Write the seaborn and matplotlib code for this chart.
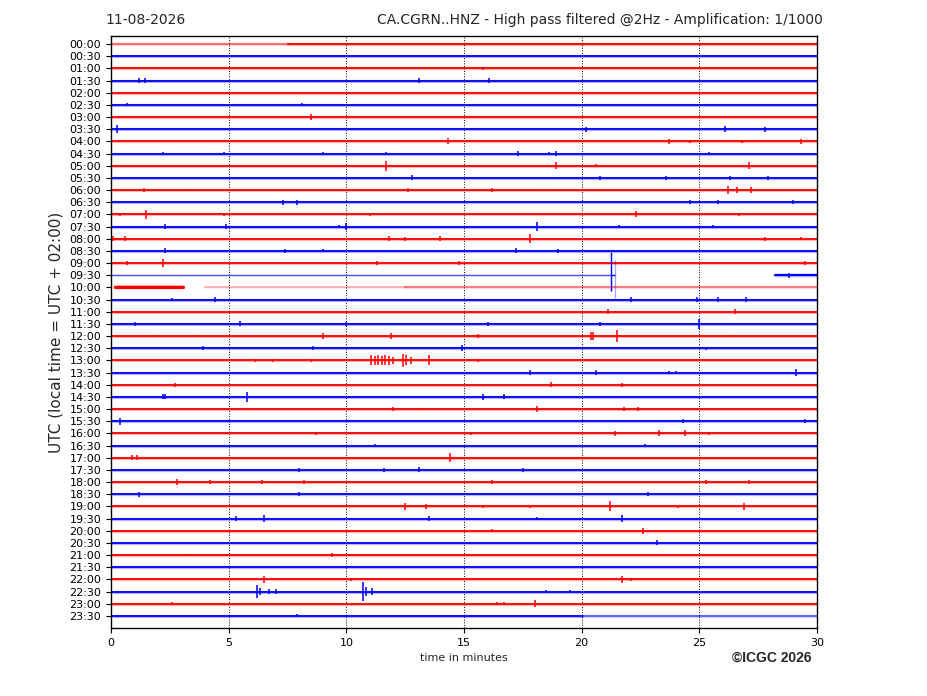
import matplotlib
matplotlib.use("Agg")
import matplotlib.pyplot as plt
import seaborn as sns
import pandas as pd

sns.set_style("ticks")
plt.rcParams['font.family'] = ['DejaVu Sans']

# ---------------- data ----------------
row_labels = ["00:00", "00:30", "01:00", "01:30", "02:00", "02:30", "03:00", "03:30",
              "04:00", "04:30", "05:00", "05:30", "06:00", "06:30", "07:00", "07:30",
              "08:00", "08:30", "09:00", "09:30", "10:00", "10:30", "11:00", "11:30",
              "12:00", "12:30", "13:00", "13:30", "14:00", "14:30", "15:00", "15:30",
              "16:00", "16:30", "17:00", "17:30", "18:00", "18:30", "19:00", "19:30",
              "20:00", "20:30", "21:00", "21:30", "22:00", "22:30", "23:00", "23:30"]
x_ticks = [0, 5, 10, 15, 20, 25, 30]

# baseline segments that differ from a full 0-30 min trace: row, start, end, alpha, width
seg_rows  = [0,   0,    19,   19,   20,   20,   20,   47,   47]
seg_start = [0.0, 7.5,  0.0,  28.2, 0.15, 4.0,  12.5, 0.0,  20.0]
seg_end   = [7.5, 30.0, 21.2, 30.0, 3.05, 12.5, 30.0, 20.0, 30.0]
seg_alpha = [0.55, 1.0, 0.6,  1.0,  1.0,  0.25, 0.45, 1.0,  0.55]
seg_width = [1.3, 1.3,  0.8,  1.5,  2.2,  1.4,  1.4,  1.3,  1.4]

# seismic events: row index, time in minutes, half-amplitude (in trace spacing units)
ev_rows = [2,
           3, 3, 3, 3,
           5, 5,
           6,
           7, 7, 7, 7,
           8, 8, 8, 8, 8,
           9, 9, 9, 9, 9, 9, 9, 9,
           10, 10, 10, 10,
           11, 11, 11, 11, 11,
           12, 12, 12, 12, 12, 12, 12, 12,
           13, 13, 13, 13, 13,
           14, 14, 14, 14, 14, 14,
           15, 15, 15, 15, 15, 15, 15,
           16, 16, 16, 16, 16, 16, 16, 16,
           17, 17, 17, 17, 17,
           18, 18, 18, 18, 18,
           19,
           20, 20, 20,
           21, 21, 21, 21, 21, 21,
           22, 22,
           23, 23, 23, 23, 23, 23,
           24, 24, 24, 24, 24, 24, 24, 24, 24,
           25, 25, 25, 25,
           26, 26, 26, 26, 26, 26, 26, 26, 26, 26, 26, 26, 26, 26, 26,
           27, 27, 27, 27, 27,
           28, 28, 28,
           29, 29, 29, 29, 29,
           30, 30, 30, 30, 30,
           31, 31, 31,
           32, 32, 32, 32, 32, 32,
           33, 33,
           34, 34, 34,
           35, 35, 35, 35,
           36, 36, 36, 36, 36, 36, 36,
           37, 37, 37,
           38, 38, 38, 38, 38, 38, 38,
           39, 39, 39, 39, 39,
           40, 40,
           41,
           42, 42,
           44, 44, 44, 44,
           45, 45, 45, 45, 45, 45, 45, 45, 45,
           46, 46, 46, 46,
           47]
ev_min = [15.8,
          1.2, 1.45, 13.1, 16.05,
          0.7, 8.1,
          8.5,
          0.27, 20.2, 26.1, 27.8,
          14.3, 23.7, 24.6, 26.8, 29.3,
          2.2, 4.8, 9.0, 11.7, 17.3, 18.6, 18.9, 25.4,
          11.7, 18.9, 20.6, 27.1,
          12.8, 20.8, 23.6, 26.3, 27.9,
          1.4, 3.2, 12.6, 16.2, 18.4, 26.2, 26.6, 27.2,
          7.3, 7.9, 24.6, 25.8, 29.0,
          0.4, 1.5, 4.8, 11.0, 22.3, 26.7,
          2.3, 4.9, 9.7, 10.0, 18.1, 21.6, 25.6,
          0.1, 0.6, 11.8, 12.5, 14.0, 17.8, 27.8, 29.3,
          2.3, 7.4, 9.0, 17.2, 19.0,
          0.7, 2.2, 11.3, 14.8, 29.5,
          28.8,
          0.5, 1.5, 2.6,
          2.6, 4.4, 22.1, 24.9, 25.8, 27.0,
          21.1, 26.5,
          1.0, 5.5, 10.0, 16.0, 20.8, 25.0,
          2.0, 3.6, 9.0, 11.9, 15.6, 20.4, 20.5, 21.5, 26.4,
          3.9, 8.6, 14.9, 25.3,
          6.1, 6.9, 8.5, 11.05, 11.2, 11.35, 11.5, 11.65, 11.8, 12.0, 12.4, 12.55, 12.75, 13.5, 15.6,
          17.8, 20.6, 23.7, 24.0, 29.1,
          2.7, 18.7, 21.7,
          2.2, 2.3, 5.8, 15.8, 16.7,
          12.0, 13.1, 18.1, 21.8, 22.4,
          0.4, 24.3, 29.5,
          8.7, 15.3, 21.4, 23.3, 24.4, 25.4,
          11.2, 22.7,
          0.9, 1.1, 14.4,
          8.0, 11.6, 13.1, 17.5,
          2.8, 4.2, 6.4, 8.2, 16.2, 25.3, 27.1,
          1.2, 8.0, 22.8,
          12.5, 13.4, 15.8, 17.8, 21.2, 24.1, 26.9,
          5.3, 6.5, 13.5, 18.1, 21.7,
          16.2, 22.6,
          23.2,
          3.2, 9.4,
          6.5, 10.2, 21.7, 22.1,
          6.2, 6.35, 6.7, 7.0, 10.7, 10.85, 11.1, 18.5, 19.5,
          2.6, 16.4, 16.7, 18.0,
          7.9]
ev_amp = [0.15,
          0.2, 0.2, 0.2, 0.2,
          0.12, 0.12,
          0.25,
          0.35, 0.2, 0.25, 0.2,
          0.25, 0.2, 0.12, 0.15, 0.2,
          0.15, 0.15, 0.12, 0.15, 0.2, 0.15, 0.2, 0.15,
          0.4, 0.3, 0.12, 0.3,
          0.2, 0.15, 0.15, 0.15, 0.15,
          0.15, 0.12, 0.15, 0.2, 0.12, 0.3, 0.25, 0.25,
          0.2, 0.2, 0.15, 0.15, 0.15,
          0.15, 0.35, 0.15, 0.15, 0.25, 0.15,
          0.2, 0.2, 0.15, 0.25, 0.35, 0.15, 0.15,
          0.2, 0.2, 0.2, 0.15, 0.2, 0.35, 0.15, 0.12,
          0.2, 0.15, 0.12, 0.2, 0.15,
          0.15, 0.3, 0.2, 0.15, 0.15,
          0.2,
          0.15, 0.15, 0.15,
          0.15, 0.2, 0.2, 0.2, 0.2, 0.2,
          0.2, 0.2,
          0.15, 0.2, 0.15, 0.15, 0.15, 0.4,
          0.12, 0.12, 0.25, 0.25, 0.15, 0.3, 0.3, 0.5, 0.12,
          0.15, 0.15, 0.25, 0.12,
          0.15, 0.15, 0.15, 0.4, 0.35, 0.4, 0.35, 0.4, 0.35, 0.3, 0.55, 0.4, 0.3, 0.4, 0.15,
          0.2, 0.2, 0.15, 0.15, 0.25,
          0.15, 0.2, 0.15,
          0.2, 0.2, 0.4, 0.25, 0.2,
          0.15, 0.12, 0.25, 0.2, 0.2,
          0.3, 0.15, 0.15,
          0.15, 0.15, 0.2, 0.25, 0.25, 0.15,
          0.15, 0.15,
          0.2, 0.2, 0.35,
          0.15, 0.15, 0.2, 0.15,
          0.25, 0.2, 0.15, 0.15, 0.15, 0.15, 0.2,
          0.2, 0.15, 0.15,
          0.3, 0.2, 0.15, 0.15, 0.4, 0.15, 0.3,
          0.2, 0.25, 0.2, 0.15, 0.3,
          0.15, 0.25,
          0.2,
          0.12, 0.2,
          0.3, 0.15, 0.3, 0.15,
          0.5, 0.3, 0.2, 0.2, 0.75, 0.4, 0.3, 0.15, 0.15,
          0.15, 0.15, 0.15, 0.3,
          0.12]

# glitch at 09:30 (vertical steps)
gl_min    = [21.25, 21.42]
gl_top    = [17.07, 17.75]
gl_bottom = [20.30, 20.90]
gl_alpha  = [1.0, 0.35]

# ---------------- figure ----------------
fig = plt.figure(figsize=(9.27, 6.96), dpi=100)
ax = fig.add_axes([111 / 927, 68 / 696, 706 / 927, 592 / 696])

n_rows = len(row_labels)
colors = ['#ff0000' if i % 2 == 0 else '#0000ff' for i in range(n_rows)]

# all baseline segments (full traces plus partial / faded pieces)
seg_r, seg_s, seg_e, seg_a, seg_w = [], [], [], [], []
for r in range(n_rows):
    if r in seg_rows:
        continue
    seg_r.append(r); seg_s.append(0.0); seg_e.append(30.0); seg_a.append(1.0); seg_w.append(1.3)
seg_r += seg_rows; seg_s += seg_start; seg_e += seg_end; seg_a += seg_alpha; seg_w += seg_width

for r, s, e, a, w in zip(seg_r, seg_s, seg_e, seg_a, seg_w):
    df = pd.DataFrame({"t": [s, e], "y": [float(r), float(r)]})
    # soft noise fringe
    sns.lineplot(data=df, x="t", y="y", ax=ax, color=colors[r], linewidth=w + 1.0,
                 alpha=a * 0.3, estimator=None, sort=False, legend=False, errorbar=None)
    # trace core
    sns.lineplot(data=df, x="t", y="y", ax=ax, color=colors[r], linewidth=w, alpha=a,
                 estimator=None, sort=False, legend=False, errorbar=None)

# events
ev = pd.DataFrame({"row": ev_rows, "t": ev_min, "amp": ev_amp})
ev["lo"] = ev["row"] - ev["amp"]
ev["hi"] = ev["row"] + ev["amp"]
ev["color"] = [colors[r] for r in ev["row"]]
ax.vlines(ev["t"], ev["lo"], ev["hi"], colors=ev["color"], lw=1.1)

# glitch on 09:30 trace
for t, top, bot, a in zip(gl_min, gl_top, gl_bottom, gl_alpha):
    ax.vlines(t, top, bot, colors='#0000ff', lw=1.0, alpha=a)
ax.hlines(19, gl_min[0], gl_min[1], colors='#0000ff', lw=1.0)

# grid
for gx in x_ticks[1:-1]:
    ax.axvline(gx, color='black', ls=':', lw=0.7, zorder=0)

ax.set_xlim(0, 30)
ax.set_ylim(48, -0.66)
ax.set_xticks(x_ticks)
ax.set_xticklabels([str(v) for v in x_ticks], fontsize=8)
ax.set_yticks(range(n_rows))
ax.set_yticklabels(row_labels, fontsize=8)
ax.set_xlabel("time in minutes", fontsize=8)
ax.set_ylabel("UTC (local time = UTC + 02:00)", fontsize=11)
for sp in ax.spines.values():
    sp.set_visible(True)
    sp.set_color('black')
    sp.set_linewidth(1.0)
ax.tick_params(direction='out', length=3.5, width=0.8, colors='black')

fig.text(105 / 927, 1 - 20 / 696, "11-08-2026", fontsize=10, va='center', ha='left')
fig.text(823 / 927, 1 - 20 / 696,
         "CA.CGRN..HNZ - High pass filtered @2Hz - Amplification: 1/1000",
         fontsize=10, va='center', ha='right')
fig.text(811 / 927, 1 - 658 / 696, "©ICGC 2026", fontsize=10, fontweight='bold',
         va='center', ha='right', family=['Liberation Sans Narrow', 'Liberation Sans', 'DejaVu Sans'])

fig.savefig("out.png", dpi=100)
